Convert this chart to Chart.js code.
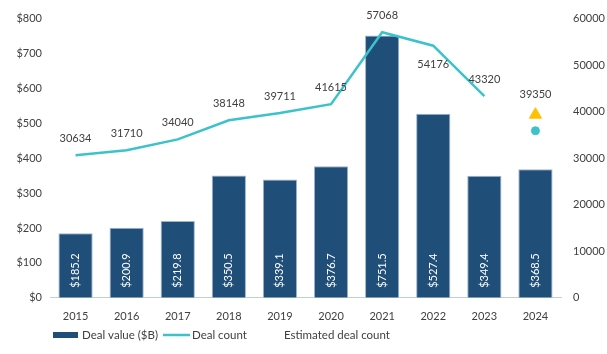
<!DOCTYPE html>
<html>
<head>
<meta charset="utf-8">
<script src="https://cdn.jsdelivr.net/npm/chart.js@4/dist/chart.umd.min.js"></script>
<style>
  html, body { margin: 0; padding: 0; background: #fff; }
  #wrap { width: 607px; height: 354px; }
</style>
</head>
<body>
<div id="wrap"><canvas id="dealChart" width="607" height="354"></canvas></div>
<script>
(function(){

  // data
  var years = ['2015', '2016', '2017', '2018', '2019', '2020', '2021', '2022', '2023', '2024'];
  var dealValue = [185.2, 200.9, 219.8, 350.5, 339.1, 376.7, 751.5, 527.4, 349.4, 368.5];
  var dealCount = [30634, 31710, 34040, 38148, 39711, 41615, 57068, 54176, 43320, null];
  var dealCount2024 = [null, null, null, null, null, null, null, null, null, 35900];
  var estimatedCount = [null, null, null, null, null, null, null, null, null, 39350];
  var valueTicks = [0, 100, 200, 300, 400, 500, 600, 700, 800];
  var countTicks = [0, 10000, 20000, 30000, 40000, 50000, 60000];
  var countLabelBelow = ['2022'];

  var BAR = '#1F4E79';
  var TEAL = '#3CC2CB';
  var GOLD = '#FFC000';
  var TXT = '#404040';
  var FONT = 'Lato, "Noto Sans", sans-serif';

  Chart.defaults.font.family = FONT;
  Chart.defaults.font.size = 11;
  Chart.defaults.color = TXT;

  // value labels inside bars, counts above points, and the legend
  var labelsPlugin = {
    id: 'labels',
    afterDatasetsDraw: function (chart) {
      var ctx = chart.ctx;
      ctx.save();
      ctx.font = '11px ' + FONT;

      // bar labels, rotated, white
      chart.getDatasetMeta(0).data.forEach(function (bar, i) {
        ctx.save();
        ctx.translate(bar.x, bar.base - 10);
        ctx.rotate(-Math.PI / 2);
        ctx.fillStyle = '#fff';
        ctx.textAlign = 'left';
        ctx.textBaseline = 'middle';
        ctx.fillText('$' + dealValue[i].toFixed(1), 0, 0);
        ctx.restore();
      });

      ctx.fillStyle = TXT;
      ctx.textAlign = 'center';
      ctx.textBaseline = 'middle';
      chart.getDatasetMeta(1).data.forEach(function (pt, i) {
        if (dealCount[i] == null) return;
        var below = countLabelBelow.indexOf(years[i]) >= 0;
        ctx.fillText(String(dealCount[i]), pt.x, below ? pt.y + 19 : pt.y - 17);
      });
      chart.getDatasetMeta(3).data.forEach(function (pt, i) {
        if (estimatedCount[i] == null) return;
        ctx.fillText(String(estimatedCount[i]), pt.x, pt.y - 20);
      });

      // legend
      var ly = 335;
      ctx.font = '11.5px ' + FONT;
      ctx.textAlign = 'left';
      ctx.fillStyle = BAR;
      ctx.fillRect(53, ly - 3, 25, 6);
      ctx.fillStyle = TXT;
      ctx.fillText('Deal value ($B)', 82, ly);
      ctx.strokeStyle = TEAL;
      ctx.lineWidth = 2.5;
      ctx.beginPath();
      ctx.moveTo(163, ly);
      ctx.lineTo(190, ly);
      ctx.stroke();
      ctx.fillText('Deal count', 192, ly);
      ctx.fillText('Estimated deal count', 284, ly);
      ctx.restore();
    }
  };

  new Chart('dealChart', {
    type: 'bar',
    data: {
      labels: years,
      datasets: [
        {
          label: 'Deal value ($B)',
          data: dealValue,
          backgroundColor: BAR,
          borderColor: '#9DB4CF',
          borderWidth: 1,
          categoryPercentage: 1,
          barPercentage: 0.67,
          yAxisID: 'yValue',
          order: 2
        },
        {
          type: 'line',
          label: 'Deal count',
          data: dealCount,
          borderColor: TEAL,
          borderWidth: 2.5,
          pointRadius: 0,
          tension: 0,
          yAxisID: 'yCount',
          order: 1
        },
        {
          type: 'line',
          label: 'Deal count 2024',
          data: dealCount2024,
          showLine: false,
          backgroundColor: TEAL,
          borderColor: TEAL,
          pointRadius: 4,
          yAxisID: 'yCount',
          order: 0
        },
        {
          type: 'line',
          label: 'Estimated deal count',
          data: estimatedCount,
          showLine: false,
          pointStyle: 'triangle',
          backgroundColor: GOLD,
          borderColor: GOLD,
          pointRadius: 7,
          yAxisID: 'yCount',
          order: 0
        }
      ]
    },
    options: {
      responsive: false,
      animation: false,
      layout: { padding: { top: 12, bottom: 19, left: 0, right: 0 } },
      plugins: {
        legend: { display: false },
        tooltip: { enabled: false }
      },
      scales: {
        x: {
          grid: { display: false, drawTicks: false },
          border: { display: true, color: '#BFCFE3', width: 1 },
          ticks: { padding: 12, color: TXT }
        },
        yValue: {
          position: 'left',
          min: 0,
          max: 800,
          grid: { display: false, drawTicks: false },
          border: { display: false },
          afterBuildTicks: function (axis) {
            axis.ticks = valueTicks.map(function (v) { return { value: v }; });
          },
          ticks: {
            padding: 8,
            callback: function (v) { return '$' + v; }
          },
          afterFit: function (axis) { axis.width = 50; }
        },
        yCount: {
          position: 'right',
          min: 0,
          max: 60000,
          grid: { display: false, drawTicks: false },
          border: { display: false },
          afterBuildTicks: function (axis) {
            axis.ticks = countTicks.map(function (v) { return { value: v }; });
          },
          ticks: {
            padding: 12,
            callback: function (v) { return String(v); }
          },
          afterFit: function (axis) { axis.width = 46; }
        }
      }
    },
    plugins: [labelsPlugin]
  });

}());
</script>
</body>
</html>
